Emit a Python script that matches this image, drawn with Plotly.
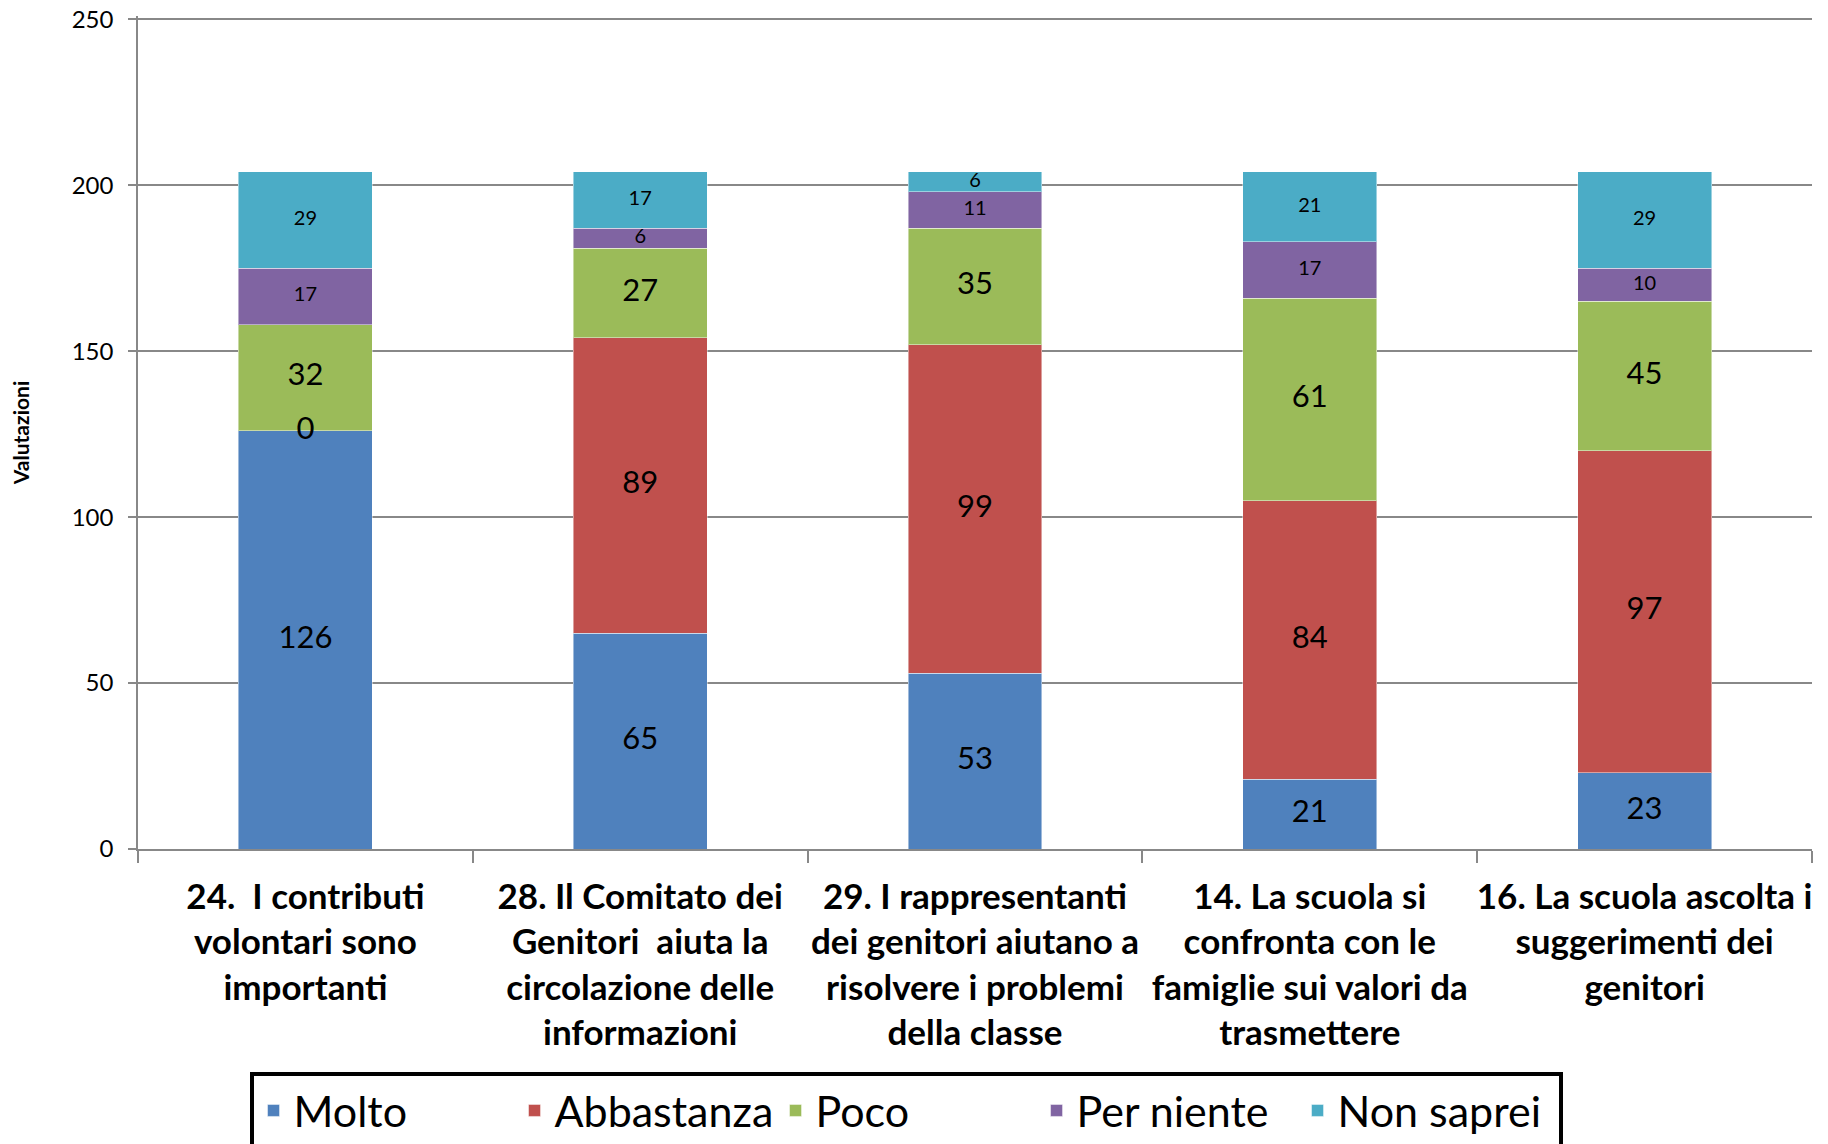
import plotly.graph_objects as go

categories = [
    "24.  I contributi<br>volontari sono<br>importanti",
    "28. Il Comitato dei<br>Genitori  aiuta la<br>circolazione delle<br>informazioni",
    "29. I rappresentanti<br>dei genitori aiutano a<br>risolvere i problemi<br>della classe",
    "14. La scuola si<br>confronta con le<br>famiglie sui valori da<br>trasmettere",
    "16. La scuola ascolta i<br>suggerimenti dei<br>genitori",
]
series_names = ["Molto", "Abbastanza", "Poco", "Per niente", "Non saprei"]
molto = [126, 65, 53, 21, 23]
abbastanza = [0, 89, 99, 84, 97]
poco = [32, 27, 35, 61, 45]
per_niente = [17, 6, 11, 17, 10]
non_saprei = [29, 17, 6, 21, 29]
y_ticks = [0, 50, 100, 150, 200, 250]

colors = ["#4F81BD", "#C0504D", "#9BBB59", "#8064A2", "#4BACC6"]
label_sizes = [31, 31, 31, 20, 20]
FONT = "Lato"

fig = go.Figure()
series = [molto, abbastanza, poco, per_niente, non_saprei]
base = [0] * len(categories)
for name, vals, col, fs in zip(series_names, series, colors, label_sizes):
    fig.add_bar(
        x=categories, y=vals, name=name,
        marker=dict(color=col, line=dict(color="rgba(255,255,255,0.45)", width=1)),
        hoverinfo="y+name",
    )
    mids = [b + v / 2 for b, v in zip(base, vals)]
    fig.add_scatter(
        x=categories, y=mids, mode="text", text=[str(v) for v in vals],
        textfont=dict(size=fs, color="black", family=FONT),
        showlegend=False, hoverinfo="skip",
    )
    base = [b + v for b, v in zip(base, vals)]

fig.update_layout(
    width=1820, height=1136,
    margin=dict(l=130, r=16, t=8, b=295, autoexpand=False),
    barmode="stack", bargap=0.6,
    plot_bgcolor="white", paper_bgcolor="white",
    font=dict(family=FONT, color="black"),
    legend=dict(
        orientation="h", x=0.4588, xanchor="center", y=-0.2677, yanchor="top",
        font=dict(size=43, family=FONT, color="black"),
        bordercolor="black", borderwidth=4,
        entrywidth=216, entrywidthmode="pixels",
        traceorder="normal",
    ),
)
fig.update_xaxes(
    tickson="boundaries", ticks="outside", ticklen=12, tickcolor="#888888", tickwidth=1.5,
    showline=True, linecolor="#888888", linewidth=1.5, showgrid=False,
    tickangle=0,
    tickfont=dict(size=35, family=FONT, weight="bold", color="black"),
    ticklabelstandoff=16,
    automargin=False,
)
fig.update_yaxes(
    range=[0, 251], tickvals=y_ticks, ticks="outside", ticklen=8, tickcolor="#888888", tickwidth=1.5,
    showgrid=True, gridcolor="#888888", gridwidth=1.5,
    showline=True, linecolor="#888888", linewidth=1.5, zeroline=False,
    tickfont=dict(size=24, family=FONT, color="black"),
    ticklabelstandoff=10, ticklabeloverflow="allow",
    title=dict(text="Valutazioni", font=dict(size=21, family=FONT, weight="bold", color="black"), standoff=36),
    automargin=False,
)

fig.write_html("out.html")
